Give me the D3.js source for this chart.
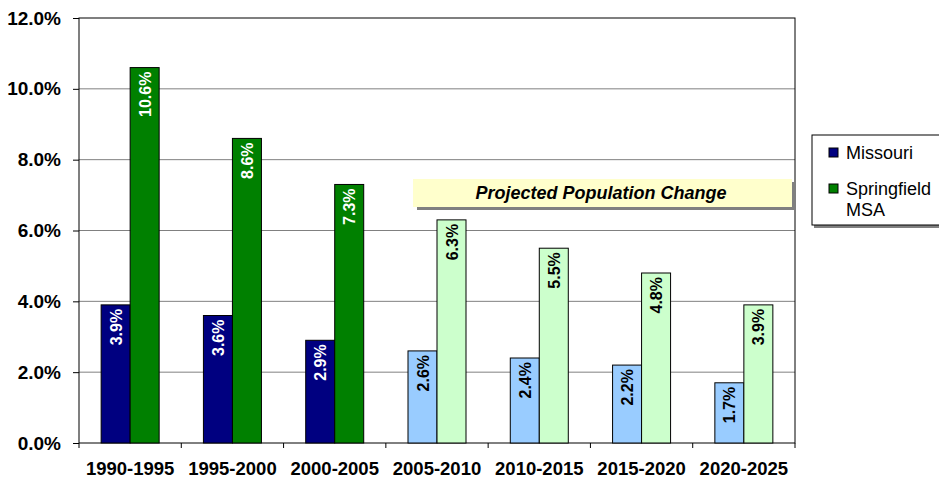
<!DOCTYPE html>
<html>
<head>
<meta charset="utf-8">
<script src="https://cdn.jsdelivr.net/npm/d3@7"></script>
<style>
  body { margin: 0; background: #fff; }
  text { font-family: Arial, "Liberation Sans", sans-serif; }
</style>
</head>
<body>
<svg id="chart" width="939" height="480"></svg>
<script>
var periods = ['1990-1995', '1995-2000', '2000-2005', '2005-2010', '2010-2015', '2015-2020', '2020-2025'];
var missouri = [3.9, 3.6, 2.9, 2.6, 2.4, 2.2, 1.7];
var springfield = [10.6, 8.6, 7.3, 6.3, 5.5, 4.8, 3.9];
var projectedFrom = 3; // first projected period index
var yTicks = [0, 2, 4, 6, 8, 10, 12];

(function() {
  var svg = d3.select('#chart');
  var plotL = 79, plotR = 795, plotT = 18, plotB = 443;
  var fontFam = 'Arial, "Liberation Sans", sans-serif';

  var x = d3.scaleBand().domain(periods).range([plotL, plotR]);
  var y = d3.scaleLinear().domain([0, 12]).range([plotB, plotT]);
  var barW = 29;

  // gridlines
  svg.append('g').selectAll('line')
    .data(yTicks.slice(1, -1))
    .enter().append('line')
    .attr('x1', plotL).attr('x2', plotR)
    .attr('y1', function(d) { return y(d); })
    .attr('y2', function(d) { return y(d); })
    .attr('stroke', '#808080').attr('stroke-width', 1);

  // plot border
  svg.append('rect')
    .attr('x', plotL).attr('y', plotT)
    .attr('width', plotR - plotL).attr('height', plotB - plotT)
    .attr('fill', 'none').attr('stroke', '#000').attr('stroke-width', 1);

  var rows = periods.map(function(p, i) {
    return { period: p, i: i, mo: missouri[i], sp: springfield[i], proj: i >= projectedFrom };
  });

  var series = [
    { key: 'mo', dx: -barW, fill: '#000080', projFill: '#99ccff' },
    { key: 'sp', dx: 0, fill: '#008000', projFill: '#ccffcc' }
  ];

  series.forEach(function(s) {
    var g = svg.append('g');
    g.selectAll('rect')
      .data(rows)
      .enter().append('rect')
      .attr('x', function(d) { return x(d.period) + x.bandwidth() / 2 + s.dx; })
      .attr('y', function(d) { return y(d[s.key]); })
      .attr('width', barW)
      .attr('height', function(d) { return y(0) - y(d[s.key]); })
      .attr('fill', function(d) { return d.proj ? s.projFill : s.fill; })
      .attr('stroke', '#000').attr('stroke-width', 1);

    g.selectAll('text')
      .data(rows)
      .enter().append('text')
      .attr('transform', function(d) {
        var cx = x(d.period) + x.bandwidth() / 2 + s.dx + barW / 2 + 6;
        return 'translate(' + cx + ',' + (y(d[s.key]) + 4) + ') rotate(-90)';
      })
      .attr('text-anchor', 'end')
      .attr('font-size', 16)
      .attr('font-weight', 'bold')
      .attr('fill', function(d) { return d.proj ? '#000' : '#fff'; })
      .text(function(d) { return d[s.key].toFixed(1) + '%'; });
  });

  // y axis
  var yAxis = svg.append('g')
    .attr('transform', 'translate(' + plotL + ',0)')
    .call(d3.axisLeft(y).tickValues(yTicks).tickSize(6).tickPadding(12)
      .tickFormat(function(d) { return d.toFixed(1) + '%'; }));
  yAxis.select('.domain').remove();
  yAxis.selectAll('line').attr('stroke', '#000');
  yAxis.selectAll('text').attr('font-size', 19).attr('font-weight', 'bold')
    .attr('font-family', fontFam).attr('fill', '#000');

  // x axis
  var xAxis = svg.append('g')
    .attr('transform', 'translate(0,' + plotB + ')')
    .call(d3.axisBottom(x).tickSize(0).tickPadding(19));
  xAxis.select('.domain').remove();
  xAxis.selectAll('text').attr('font-size', 18.5).attr('font-weight', 'bold')
    .attr('font-family', fontFam).attr('fill', '#000');
  xAxis.selectAll('line.sep')
    .data(d3.range(periods.length + 1))
    .enter().append('line').attr('class', 'sep')
    .attr('x1', function(d) { return plotL + d * x.step(); })
    .attr('x2', function(d) { return plotL + d * x.step(); })
    .attr('y1', 0).attr('y2', 5)
    .attr('stroke', '#000');

  // projected banner
  var banner = svg.append('g');
  banner.append('rect').attr('x', 417).attr('y', 182).attr('width', 379).attr('height', 28).attr('fill', '#808080');
  banner.append('rect').attr('x', 413).attr('y', 179).attr('width', 379).attr('height', 28).attr('fill', '#ffffcc');
  banner.append('text').attr('x', 601).attr('y', 199).attr('text-anchor', 'middle')
    .attr('font-size', 18).attr('font-weight', 'bold').attr('font-style', 'italic')
    .text('Projected Population Change');

  // legend
  var legend = svg.append('g');
  legend.append('rect').attr('x', 814).attr('y', 137).attr('width', 130).attr('height', 91).attr('fill', '#808080');
  legend.append('rect').attr('x', 812).attr('y', 135).attr('width', 130).attr('height', 90)
    .attr('fill', '#fff').attr('stroke', '#000');
  var legendItems = [
    { lines: ['Missouri'], color: '#000080', y: 148 },
    { lines: ['Springfield', 'MSA'], color: '#008000', y: 184 }
  ];
  legendItems.forEach(function(it) {
    legend.append('rect').attr('x', 829).attr('y', it.y).attr('width', 9).attr('height', 9)
      .attr('fill', it.color).attr('stroke', '#000');
    it.lines.forEach(function(l, j) {
      legend.append('text').attr('x', 846).attr('y', it.y + 11 + j * 21)
        .attr('font-size', 18).text(l);
    });
  });
})();
</script>
</body>
</html>
